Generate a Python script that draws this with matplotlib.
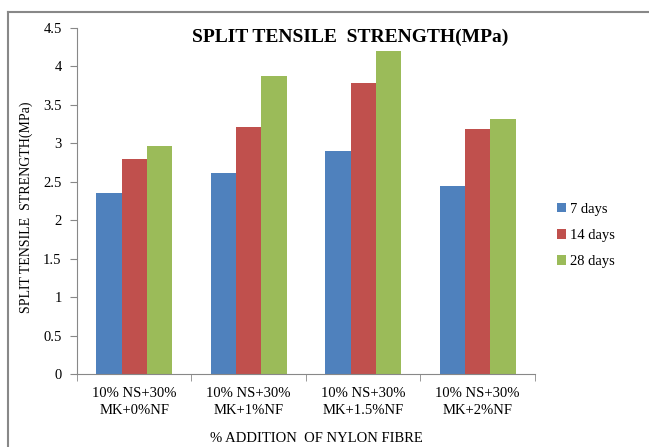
import numpy as np
import matplotlib.pyplot as plt
from matplotlib.lines import Line2D

# chart data
categories = ['10% NS+30%\nMK+0%NF', '10% NS+30%\nMK+1%NF',
              '10% NS+30%\nMK+1.5%NF', '10% NS+30%\nMK+2%NF']
series_names = ['7 days', '14 days', '28 days']
days7 = [2.35, 2.61, 2.90, 2.44]
days14 = [2.80, 3.21, 3.78, 3.19]
days28 = [2.97, 3.88, 4.20, 3.32]
colors = ['#4F81BD', '#C0504D', '#9BBB59']

plt.rcParams['font.family'] = ['Liberation Serif', 'DejaVu Serif']

fig = plt.figure(figsize=(6.49, 4.47), dpi=100)
ax = fig.add_axes([0.1186, 0.1633, 0.7057, 0.7741])

x = np.arange(len(categories))
w = 0.22
for i, (vals, name) in enumerate(zip([days7, days14, days28], series_names)):
    ax.bar(x + (i - 1) * w, vals, w, color=colors[i], label=name)

ax.set_xlim(-0.5, len(categories) - 0.5)
ax.set_ylim(0, 4.5)
ax.set_yticks(np.arange(0, 4.51, 0.5))
ax.set_yticklabels(['0', '0.5', '1', '1.5', '2', '2.5', '3', '3.5', '4', '4.5'])
ax.set_xticks(x)
ax.set_xticklabels(categories, fontsize=10.5, linespacing=1.45)
ax.set_xticks(np.arange(-0.5, len(categories), 1), minor=True)
ax.tick_params(axis='x', which='major', length=0, pad=9)
ax.tick_params(axis='x', which='minor', length=5, color='#888888')
ax.tick_params(axis='y', length=5, color='#888888', labelsize=10.5, pad=6)

for s in ['top', 'right']:
    ax.spines[s].set_visible(False)
for s in ['left', 'bottom']:
    ax.spines[s].set_color('#888888')

fig.text(26 / 649, 1 - 207 / 447, 'SPLIT TENSILE  STRENGTH(MPa)', rotation=90,
         ha='center', va='center', fontsize=10)
fig.text(0.487, 1 - 438 / 447, '% ADDITION  OF NYLON FIBRE', ha='center',
         va='center', fontsize=10.5)
fig.text(0.54, 1 - 37 / 447, 'SPLIT TENSILE  STRENGTH(MPa)', ha='center',
         va='center', fontsize=14, fontweight='bold')

ax.legend(loc='center left', bbox_to_anchor=(1.02, 0.40), frameon=False,
          fontsize=10.5, handlelength=0.6, handleheight=0.6,
          handletextpad=0.3, labelspacing=0.9)

# outer frame (top and left edges)
fig.add_artist(Line2D([8 / 649, 1], [1 - 12 / 447, 1 - 12 / 447],
                      transform=fig.transFigure, color='#888888', lw=1.5))
fig.add_artist(Line2D([8 / 649, 8 / 649], [0, 1 - 12 / 447],
                      transform=fig.transFigure, color='#888888', lw=1.5))

fig.savefig('out.png', dpi=100)
